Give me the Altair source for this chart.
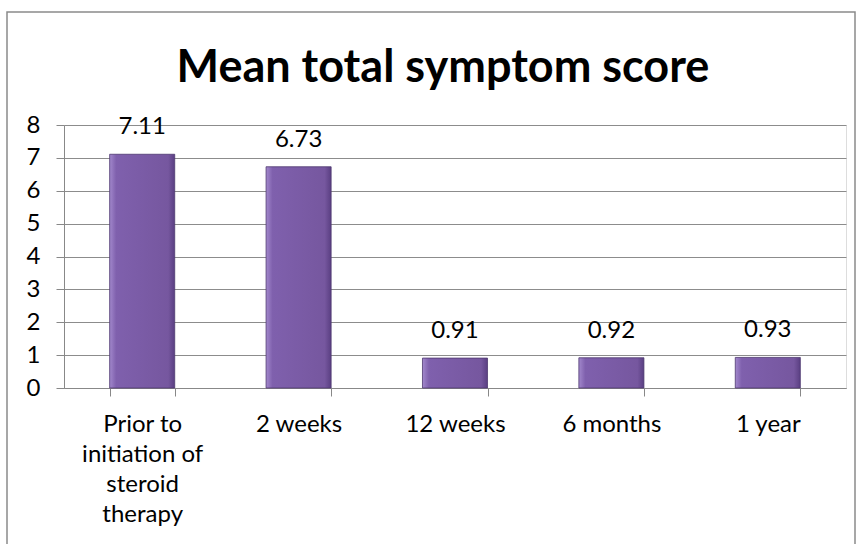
import altair as alt
import pandas as pd

categories = ["Prior to initiation of steroid therapy", "2 weeks", "12 weeks", "6 months", "1 year"]
values = [7.11, 6.73, 0.91, 0.92, 0.93]
labels = ["7.11", "6.73", "0.91", "0.92", "0.93"]
y_ticks = [0, 1, 2, 3, 4, 5, 6, 7, 8]

df = pd.DataFrame({"cat": categories, "val": values, "lab": labels})

FONT = "Lato"
FS = 24

x = alt.X(
    "cat:N",
    sort=categories,
    title=None,
    scale=alt.Scale(paddingInner=0.584, paddingOuter=0.292),
    axis=alt.Axis(
        labelAngle=0,
        tickBand="extent",
        labelExpr="datum.label == 'Prior to initiation of steroid therapy' ? ['Prior to', 'initiation of', 'steroid', 'therapy'] : datum.label",
        labelFontSize=FS,
        labelLineHeight=30,
        labelPadding=16,
        labelColor="#000000",
        labelFont=FONT,
        tickSize=8,
        tickColor="#888888",
        domainColor="#888888",
        grid=False,
    ),
)
y = alt.Y(
    "val:Q",
    title=None,
    scale=alt.Scale(domain=[0, 8], nice=False),
    axis=alt.Axis(
        values=y_ticks,
        labelFontSize=FS,
        labelFont=FONT,
        labelColor="#000000",
        labelPadding=16,
        labelOverlap=False,
        tickSize=8,
        tickColor="#888888",
        domainColor="#888888",
        gridColor="#8c8c8c",
        grid=True,
    ),
)

bars = alt.Chart(df).mark_bar(
    color=alt.Gradient(
        gradient="linear",
        x1=0, x2=1, y1=0, y2=0,
        stops=[
            alt.GradientStop(offset=0, color="#a288cc"),
            alt.GradientStop(offset=0.1, color="#7f60ad"),
            alt.GradientStop(offset=0.9, color="#76579f"),
            alt.GradientStop(offset=1, color="#5a3f82"),
        ],
    ),
    stroke="#4e3870",
    strokeWidth=0.8,
).encode(x=x, y=y)

text = alt.Chart(df).mark_text(
    font=FONT, fontSize=FS, baseline="alphabetic", dy=-20, color="#000000"
).encode(x=x, y=y, text="lab:N")

frame = alt.Chart(pd.DataFrame({"k": [0]})).mark_rect(
    fill=None, stroke="#8a8a8a", strokeWidth=1.5
).encode(
    x=alt.value(-57), x2=alt.value(791), y=alt.value(-113), y2=alt.value(440)
)

chart = alt.layer(frame, bars, text).properties(
    width=782,
    height=263,
    autosize=alt.AutoSizeParams(type="none"),
    padding={"left": 64, "top": 125, "right": 15, "bottom": 156},
    title=alt.TitleParams(
        "Mean total symptom score",
        font=FONT,
        fontSize=45,
        fontWeight="bold",
        color="#000000",
        anchor="middle",
        frame="group",
        dx=-12,
        baseline="alphabetic",
        offset=-116,
    ),
).configure_view(stroke=None).configure(background="#ffffff")

chart.save("out.html", embed_options={"renderer": "svg", "actions": False})
